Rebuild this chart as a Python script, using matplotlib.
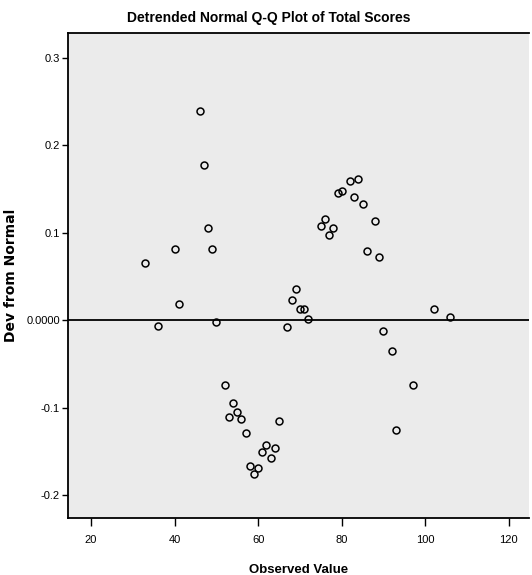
import matplotlib
matplotlib.use("Agg")
import matplotlib.pyplot as plt

observed = [33, 36, 40, 41, 46, 47, 48, 49, 50, 52, 54, 53, 55, 56, 57, 58,
            60, 59, 61, 62, 64, 63, 65, 67, 68, 69, 70, 71, 72, 75, 76, 77,
            78, 79, 80, 82, 83, 84, 85, 86, 88, 89, 90, 92, 93, 97, 102, 106]
deviation = [0.066, -0.007, 0.082, 0.019, 0.239, 0.177, 0.105, 0.082, -0.002,
             -0.074, -0.095, -0.111, -0.105, -0.113, -0.129, -0.167, -0.169,
             -0.176, -0.151, -0.143, -0.146, -0.157, -0.115, -0.008, 0.023,
             0.036, 0.013, 0.013, 0.002, 0.108, 0.116, 0.098, 0.105, 0.145,
             0.148, 0.159, 0.141, 0.161, 0.133, 0.079, 0.113, 0.072, -0.012,
             -0.035, -0.125, -0.074, 0.013, 0.004]

xticks = [20, 40, 60, 80, 100, 120]
yticks = [0.3, 0.2, 0.1, 0.0, -0.1, -0.2]
ytick_labels = ["0.3", "0.2", "0.1", "0.0000", "-0.1", "-0.2"]

narrow = ["Liberation Sans Narrow", "Liberation Sans", "DejaVu Sans"]

fig = plt.figure(figsize=(5.32, 5.75), dpi=100)
ax = fig.add_axes([0.128, 0.099, 0.866, 0.844])
ax.set_facecolor("#ebebeb")

ax.axhline(0, color="black", lw=1.3, zorder=2)
ax.plot(observed, deviation, "o", mfc="none", mec="black", ms=5, mew=1.1,
        zorder=3)

ax.set_xlim(14.5, 124.8)
ax.set_ylim(-0.226, 0.3286)

ax.set_xticks(xticks)
ax.set_xticklabels([str(v) for v in xticks], family=narrow, fontsize=8)
ax.set_yticks(yticks)
ax.set_yticklabels(ytick_labels, family=narrow, fontsize=8)
ax.tick_params(direction="out", width=1, color="black")
ax.tick_params(axis="x", length=6, pad=6)
ax.tick_params(axis="y", length=4, pad=2)

for side in ["left", "bottom", "top"]:
    ax.spines[side].set_linewidth(1.3)
ax.spines["right"].set_visible(False)

# the title sits a little left of the (cropped) plot's centre
ax.set_title("Detrended Normal Q-Q Plot of Total Scores", family=narrow,
             fontweight="bold", fontsize=10, pad=8, x=0.436)
ax.set_xlabel("Observed Value", family=narrow, fontweight="bold",
              fontsize=9.5)
ax.xaxis.set_label_coords(0.5, -0.094)
ax.set_ylabel("Dev from Normal", family="DejaVu Sans", fontweight="bold",
              fontsize=10)
ax.yaxis.set_label_coords(-0.108, 0.5)

fig.savefig("out.png", dpi=100)
